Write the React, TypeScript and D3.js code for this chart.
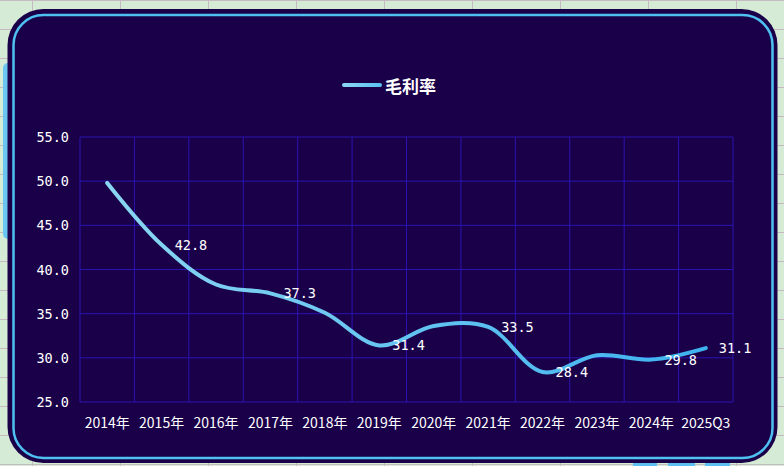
import React from "react";
import * as d3 from "d3";

const categories = ["2014年", "2015年", "2016年", "2017年", "2018年", "2019年", "2020年", "2021年", "2022年", "2023年", "2024年", "2025Q3"];
const grossMargin = [49.8, 42.8, 38.3, 37.3, 35.1, 31.4, 33.6, 33.5, 28.4, 30.3, 29.8, 31.1];
const labelShown = [false, true, false, true, false, true, false, true, true, false, true, true];
const yTicks = [25, 30, 35, 40, 45, 50, 55];
const seriesName = "毛利率";

const W = 784;
const H = 466;
const plot = { left: 80, right: 733, top: 137, bottom: 402 };

export default function App() {
  const x = d3.scaleBand<string>().domain(categories).range([plot.left, plot.right]).padding(0);
  const y = d3.scaleLinear().domain([25, 55]).range([plot.bottom, plot.top]);
  const cx = (c: string) => (x(c) as number) + x.bandwidth() / 2;
  const pts: [number, number][] = categories.map((c, i) => [cx(c), y(grossMargin[i])]);
  const line = d3.line().curve(d3.curveCatmullRom.alpha(0.5));
  const path = line(pts) || "";

  const sheetCols = d3.range(0, 9).map((k) => 32 + 88 * k);
  const sheetRows = d3.range(0, 17).map((k) => 29 * k);
  const numFont = "'DejaVu Sans Mono', 'Liberation Mono', monospace";
  const cjkFont = "'Noto Sans CJK SC', 'Noto Sans', sans-serif";

  return (
    <div style={{ position: "fixed", left: 0, top: 0, width: W, height: H }}>
      <svg width={W} height={H} style={{ display: "block" }}>
        <defs>
          <linearGradient id="lineGrad" gradientUnits="userSpaceOnUse" x1={pts[0][0]} y1={0} x2={pts[pts.length - 1][0]} y2={0}>
            <stop offset="0" stopColor="#8ad6f2" />
            <stop offset="1" stopColor="#3eb2ef" />
          </linearGradient>
          <linearGradient id="legGrad" gradientUnits="userSpaceOnUse" x1={344} y1={0} x2={380} y2={0}>
            <stop offset="0" stopColor="#8ad6f2" />
            <stop offset="1" stopColor="#5cc2f0" />
          </linearGradient>
        </defs>
        {/* spreadsheet background */}
        <rect x={0} y={0} width={W} height={H} fill="#d6ebd5" />
        {sheetCols.map((sx) => (
          <line key={"c" + sx} x1={sx + 0.5} x2={sx + 0.5} y1={0} y2={H} stroke="#c6bac2" strokeWidth={1} />
        ))}
        {sheetRows.map((sy) => (
          <line key={"r" + sy} x1={0} x2={W} y1={sy + 0.5} y2={sy + 0.5} stroke="#c6bac2" strokeWidth={1} />
        ))}
        <rect x={3} y={63} width={14} height={176} rx={5} fill="#6cc6f2" />
        <rect x={633} y={463} width={24} height={4} fill="#5cbff0" />
        <rect x={668} y={463} width={27} height={4} fill="#5cbff0" />
        <rect x={705} y={463} width={25} height={4} fill="#5cbff0" />

        {/* chart box */}
        <rect x={7.5} y={9} width={770} height={454} rx={36} fill="#1a0049" />
        <rect x={13.5} y={15} width={759} height={443} rx={30} fill="none" stroke="#4ec1f1" strokeWidth={2.5} />

        {/* gridlines */}
        {yTicks.map((t) => (
          <line key={"g" + t} x1={plot.left} x2={plot.right} y1={y(t)} y2={y(t)} stroke="#2a14b0" strokeWidth={1} />
        ))}
        {categories.map((c) => (
          <line key={"v" + c} x1={x(c) as number} x2={x(c) as number} y1={plot.top} y2={plot.bottom} stroke="#2a14b0" strokeWidth={1} />
        ))}
        <line x1={plot.right} x2={plot.right} y1={plot.top} y2={plot.bottom} stroke="#2a14b0" strokeWidth={1} />

        {/* y axis labels */}
        {yTicks.map((t) => (
          <text key={"yl" + t} x={69} y={y(t)} textAnchor="end" dominantBaseline="central" fill="#ffffff" fontFamily={numFont} fontSize={13.5}>
            {d3.format(".1f")(t)}
          </text>
        ))}
        {/* x axis labels */}
        {categories.map((c) => (
          <text key={"xl" + c} x={cx(c)} y={422} textAnchor="middle" dominantBaseline="central" fill="#ffffff" fontFamily={cjkFont} fontSize={14}>
            {c}
          </text>
        ))}

        {/* line */}
        <path d={path} fill="none" stroke="url(#lineGrad)" strokeWidth={4} strokeLinecap="round" strokeLinejoin="round" />

        {/* data labels */}
        {categories.map((c, i) =>
          labelShown[i] ? (
            <text key={"dl" + c} x={cx(c) + 13} y={y(grossMargin[i])} dominantBaseline="central" fill="#ffffff" fontFamily={numFont} fontSize={13.5}>
              {d3.format(".1f")(grossMargin[i])}
            </text>
          ) : null
        )}

        {/* legend */}
        <line x1={344} x2={380} y1={85} y2={85} stroke="url(#legGrad)" strokeWidth={4} strokeLinecap="round" />
        <text x={385} y={85} dominantBaseline="central" fill="#ffffff" fontFamily={cjkFont} fontSize={17} fontWeight="bold">
          {seriesName}
        </text>
      </svg>
    </div>
  );
}
